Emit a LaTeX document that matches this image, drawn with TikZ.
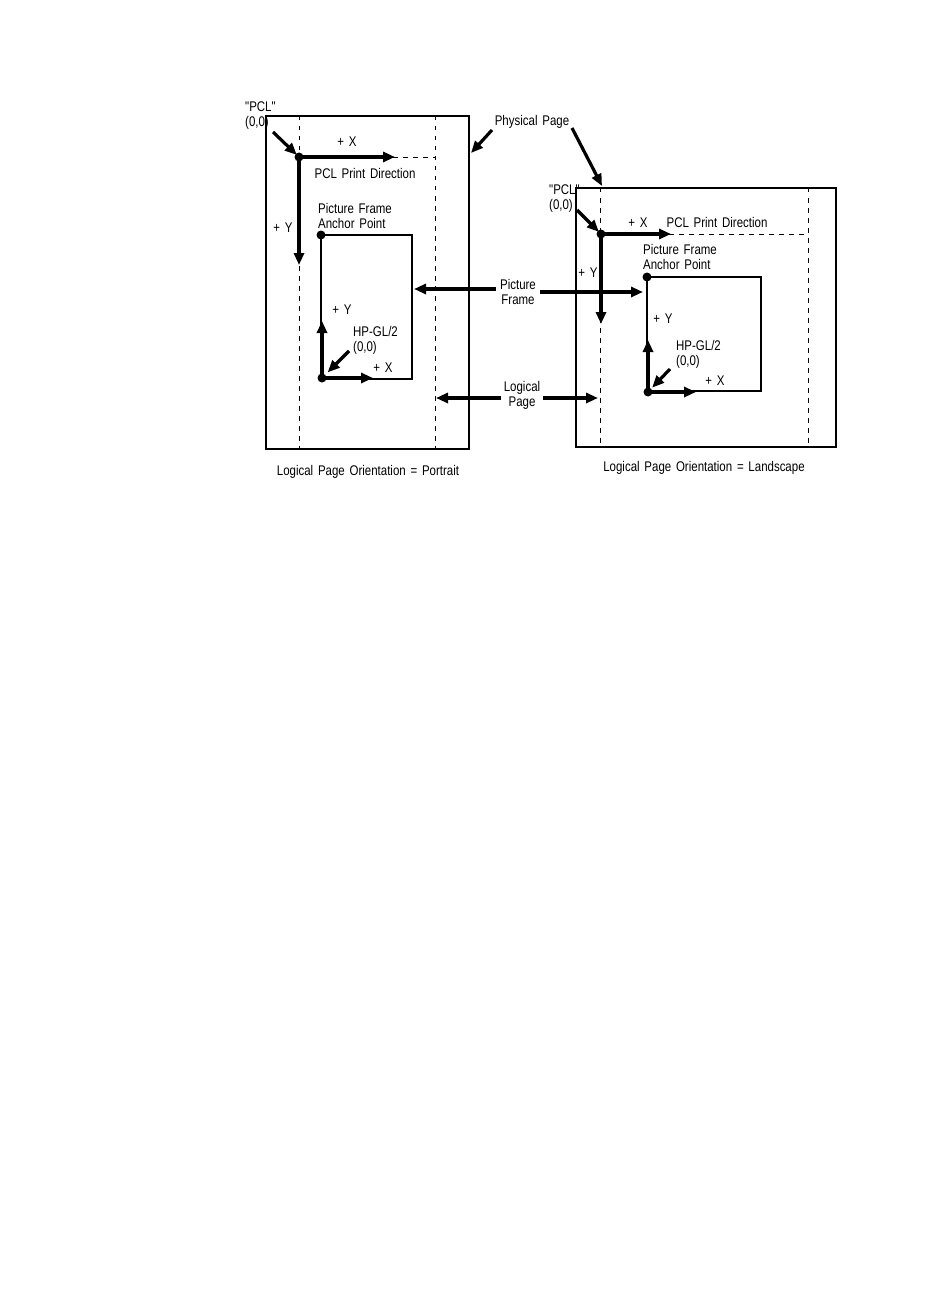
\documentclass[tikz,border=0pt]{standalone}
\usepackage{fontspec}
\setmainfont{Liberation Sans}
\newfontfamily\lblfont[FakeStretch=0.82,WordSpace=1.5]{Liberation Sans}
\usetikzlibrary{arrows.meta}
\begin{document}
\begin{tikzpicture}[x=1pt,y=-1pt,
  page/.style={draw, line width=2pt},
  pframe/.style={draw, line width=1.7pt},
  logline/.style={draw, line width=0.9pt, dash pattern=on 4.5pt off 5.5pt},
  axis/.style={line width=3.2pt, -{Triangle[length=12pt,width=10pt]}},
  pointer/.style={line width=3.2pt, -{Triangle[length=12pt,width=10pt]}},
  lbl/.style={inner sep=0pt, font=\lblfont\fontsize{14}{15}\selectfont},
  dot/.style={circle, fill, inner sep=0pt, minimum size=9pt}]
\useasboundingbox (0,0) rectangle (950,1316);

% ---------- left panel (portrait) ----------
\node[lbl, anchor=west, align=left] (pclLabL) at (245,115.5) {"PCL"\\(0,0)};
\draw[page] (266,116) rectangle (469,449);
\draw[logline] (299,116) -- (299,449);
\draw[logline] (435,116) -- (435,449);
\draw[pframe] (321,235) rectangle (412,379);
\draw[logline] (393,157) -- (435,157);

\node[dot] (pclL) at (299,157) {};
\coordinate (pxL) at (395,157);
\coordinate (pyL) at (299,265);
\draw[axis] (pclL.center) -- (pxL);
\draw[axis] (pclL.center) -- (pyL);
\coordinate (pclTailL) at (273,132);
\draw[pointer, shorten >=3pt] (pclTailL) -- (pclL.center);

\node[lbl] (pxlabL) at (347,142) {+ X};
\node[lbl] (pdirL) at (365,173) {PCL Print Direction};
\node[lbl] (pylabL) at (283,228) {+ Y};
\node[lbl, anchor=west, align=left] (anchL) at (318,215.5) {Picture Frame\\Anchor Point};
\node[dot] (anchDotL) at (321,235) {};

\node[dot] (hpL) at (322,378) {};
\coordinate (hyTipL) at (322,321);
\coordinate (hxTipL) at (373,378);
\draw[axis] (hpL.center) -- (hyTipL);
\draw[axis] (hpL.center) -- (hxTipL);
\node[lbl] (hylabL) at (342,310) {+ Y};
\node[lbl, anchor=west, align=left] (hpglL) at (353,340) {HP-GL/2\\(0,0)};
\node[lbl] (hxlabL) at (383,368) {+ X};
\coordinate (hpTailL) at (349,351);
\draw[pointer, shorten >=8pt] (hpTailL) -- (hpL.center);

\node[lbl] (orientL) at (368,472) {Logical Page Orientation = Portrait};

% ---------- shared labels ----------
\node[lbl] (phys) at (532,122) {Physical Page};
\coordinate (physTipL) at (471,153);
\coordinate (physTipR) at (602,186);
\draw[pointer] (492,130) -- (physTipL);
\draw[pointer] (572,128) -- (physTipR);

\node[lbl, align=center] (pf) at (518,292) {Picture\\Frame};
\coordinate (pfTipL) at (414,289);
\coordinate (pfTipR) at (643,292);
\draw[pointer] (pf.west |- pfTipL) ++(-4,0) -- (pfTipL);
\draw[pointer] (pf.east |- pfTipR) ++(4,0) -- (pfTipR);

\node[lbl, align=center] (lp) at (522,395.5) {Logical\\Page};
\coordinate (lpTipL) at (436,398);
\coordinate (lpTipR) at (598,398);
\draw[pointer] (lp.west |- lpTipL) ++(-3,0) -- (lpTipL);
\draw[pointer] (lp.east |- lpTipR) ++(3,0) -- (lpTipR);

% ---------- right panel (landscape) ----------
\node[lbl, anchor=west, align=left] (pclLabR) at (549,198.5) {"PCL"\\(0,0)};
\draw[page] (576,188) rectangle (836,447);
\draw[logline] (600,188) -- (600,447);
\draw[logline] (808,188) -- (808,447);
\draw[pframe] (647,277) rectangle (761,391);
\draw[logline] (669,234) -- (808,234);

\node[dot] (pclR) at (601,234) {};
\coordinate (pxR) at (671,234);
\coordinate (pyR) at (601,324);
\draw[axis] (pclR.center) -- (pxR);
\draw[axis] (pclR.center) -- (pyR);
\coordinate (pclTailR) at (577,210);
\draw[pointer, shorten >=3pt] (pclTailR) -- (pclR.center);

\node[lbl] (pxlabR) at (638,223) {+ X};
\node[lbl] (pdirR) at (717,222) {PCL Print Direction};
\node[lbl] (pylabR) at (588,273) {+ Y};
\node[lbl, anchor=west, align=left] (anchR) at (643,256.5) {Picture Frame\\Anchor Point};
\node[dot] (anchDotR) at (647,277) {};

\node[dot] (hpR) at (648,392) {};
\coordinate (hyTipR) at (648,340);
\coordinate (hxTipR) at (696,392);
\draw[axis] (hpR.center) -- (hyTipR);
\draw[axis] (hpR.center) -- (hxTipR);
\node[lbl] (hylabR) at (663,319) {+ Y};
\node[lbl, anchor=west, align=left] (hpglR) at (676,354.5) {HP-GL/2\\(0,0)};
\node[lbl] (hxlabR) at (715,381) {+ X};
\coordinate (hpTailR) at (670,369);
\draw[pointer, shorten >=6pt] (hpTailR) -- (hpR.center);

\node[lbl] (orientR) at (704,468) {Logical Page Orientation = Landscape};
\end{tikzpicture}
\end{document}
